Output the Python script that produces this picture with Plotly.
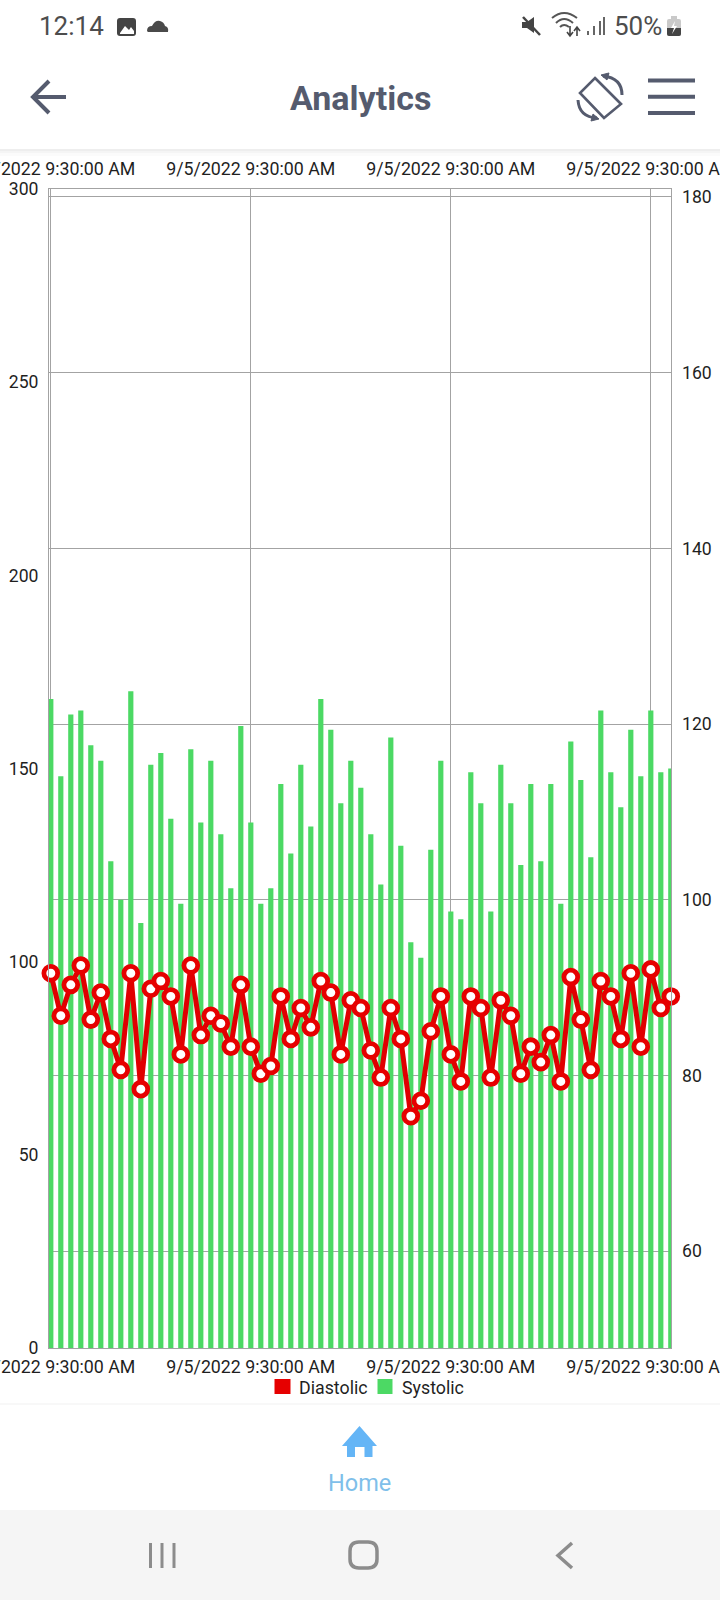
import re
import plotly.graph_objects as go

date_label = "9/5/2022 9:30:00 AM"
systolic = [168,148,164,165,156,152,126,116,170,110,151,154,137,115,155,136,152,133,119,161,
            136,115,119,146,128,151,135,168,160,141,152,145,133,120,158,130,105,101,129,152,
            113,111,149,141,113,151,141,125,146,126,146,115,157,147,127,165,149,140,160,148,
            165,149,150]
diastolic = [97,86,94,99,85,92,80,72,97,67,93,95,91,76,99,81,86,84,78,94,
             78,71,73,91,80,88,83,95,92,76,90,88,77,70,88,80,60,64,82,91,
             76,69,91,88,70,90,86,71,78,74,81,69,96,85,72,95,91,80,97,78,
             98,88,91]
readings = list(range(len(systolic)))
x_tick_positions = [0, 20, 40, 60]
x_tick_labels = [date_label] * 4
left_ticks = [0, 50, 100, 150, 200, 250, 300]
right_ticks = [60, 80, 100, 120, 140, 160, 180]

W, H = 720, 1600
L, R, T, B = 49, 671, 189, 1348
INK = "#555b6e"
STATUS = "#4d4d4d"
GRID = "#a3a3a3"
TXT = "#1f1f1f"

def px(x): return (x - L) / (R - L)
def py(y): return (B - y) / (B - T)

def P(s):
    out, i = [], 0
    for t in s.split():
        if re.fullmatch(r"[A-Za-z]", t):
            out.append(t)
        else:
            v = float(t)
            out.append(f"{px(v):.5f}" if i % 2 == 0 else f"{py(v):.5f}")
            i += 1
    return " ".join(out)

shapes, notes = [], []

def rect(x0, y0, x1, y1, fill):
    shapes.append(dict(type="rect", xref="paper", yref="paper", x0=px(x0), x1=px(x1), y0=py(y0), y1=py(y1),
                       fillcolor=fill, line=dict(width=0), layer="below"))

def path(s, fill=None, stroke=None, w=0):
    d = dict(type="path", xref="paper", yref="paper", path=P(s), line=dict(width=w, color=stroke or "rgba(0,0,0,0)"), layer="above")
    if fill:
        d["fillcolor"] = fill
    shapes.append(d)

def text(x, y, s, size, color=TXT, anchor="left", weight=400):
    notes.append(dict(text=s, x=px(x), y=py(y), xref="paper", yref="paper", showarrow=False, xanchor=anchor, yanchor="middle",
                      font=dict(family="Roboto", size=size, color=color, weight=weight), borderpad=0, borderwidth=0))

def rrect(x0, y0, x1, y1, r):
    return (f"M {x0+r} {y0} L {x1-r} {y0} Q {x1} {y0} {x1} {y0+r} L {x1} {y1-r} Q {x1} {y1} {x1-r} {y1} "
            f"L {x0+r} {y1} Q {x0} {y1} {x0} {y1-r} L {x0} {y0+r} Q {x0} {y0} {x0+r} {y0} Z")

# page regions
rect(0, 149, W, 151, "#eeeeee")
rect(0, 151, W, 153, "#f5f5f5")
rect(0, 153, W, 156, "#fbfbfb")
rect(0, 1403, W, 1405, "#f8f8f8")
rect(0, 1510, W, H, "#f5f5f5")

# status bar
text(39, 26, "12:14", 26, STATUS)
text(614, 26, "50%", 26, STATUS)
path(rrect(117, 18, 136, 36, 3), fill="#444444")
path("M 120 33 L 125 26 L 129 30 L 131 27 L 134 31 L 134 34 L 120 34 Z", fill="#ffffff")
path("M 147 31 Q 147 26 152 26 Q 155 20 160 21 Q 164 22 165 26 Q 169 27 168 32 L 148 32 Z", fill="#4a4a4a")
path("M 522 22 L 527 22 L 534 17 L 534 33 L 527 28 L 522 28 Z", fill="#444444")
path("M 523 17 L 540 35", stroke="#444444", w=2.5)
path("M 552 18 Q 564 8 577 18", stroke="#555555", w=2)
path("M 556 23 Q 564 15 573 23", stroke="#555555", w=2)
path("M 560 27 Q 564 23 569 27", stroke="#555555", w=2)
path("M 570 26 L 570 35 M 567 32 L 570 36 L 573 32", stroke="#444444", w=1.6)
path("M 577 36 L 577 28 M 574 31 L 577 27 L 580 31", stroke="#444444", w=1.6)
for bx, by in ((588, 31), (594, 26), (600, 21), (604, 17)):
    path(f"M {bx} 35 L {bx} {by}", stroke="#666666", w=2)
path(rrect(667, 19, 681, 36, 2), fill="#c9c9c9")
path("M 671 16 L 677 16 L 677 19 L 671 19 Z", fill="#c9c9c9")
path("M 667 28 L 681 28 L 681 34 Q 681 36 679 36 L 669 36 Q 667 36 667 34 Z", fill="#444444")
path("M 675 21 L 671 28 L 674 28 L 672 34 L 677 26 L 674 26 Z", fill="#ffffff")

# header
text(360.5, 98, "Analytics", 34, INK, "center", 700)
path("M 66 97 L 33 97 M 49 81 L 33 97 L 49 113", stroke=INK, w=4)
path("M 595 78 L 621 104 L 604 118 L 580 93 Z", stroke=INK, w=2.6)
path("M 603 76 Q 622 78 622 95", stroke=INK, w=3)
path("M 601 75 L 609 73 L 607 80 Z", fill=INK, stroke=INK, w=1)
path("M 578 100 Q 579 117 597 118", stroke=INK, w=3)
path("M 599 119 L 591 121 L 593 114 Z", fill=INK, stroke=INK, w=1)
for ly in (80.5, 96.8, 113):
    path(f"M 648 {ly} L 695 {ly}", stroke=INK, w=4)

# legend
rect(274.5, 1379, 290.5, 1394, "#e60000")
rect(377.5, 1379, 392.5, 1394, "#4cd964")
text(299, 1387.5, "Diastolic", 17.8)
text(402, 1387.5, "Systolic", 17.8)

# bottom navigation
path("M 359.5 1426 L 377 1446 L 372.5 1446 L 372.5 1457 L 364.5 1457 L 364.5 1447 L 355 1447 L 355 1457 L 347 1457 L 347 1446 L 342 1446 Z", fill="#64b5f6")
text(359, 1483, "Home", 23.5, "#7fbfea", "center")
for nx in (150.5, 162, 174):
    path(f"M {nx} 1543 L {nx} 1568", stroke="#8c8c8c", w=3)
path(rrect(350, 1542, 377, 1568, 9), stroke="#8c8c8c", w=3.5)
path("M 572 1543 L 558 1555.5 L 572 1568", stroke="#8c8c8c", w=3.5)

x_font = dict(family="Roboto", size=17.8, color=TXT)
y_font = dict(family="Roboto", size=17.6, color=TXT)
x_range = [-0.18, 62.02]

fig = go.Figure()
fig.add_bar(x=readings, y=systolic, name="Systolic", width=0.52, marker=dict(color="#4cd964", line=dict(width=0)), showlegend=False)
fig.add_scatter(x=readings, y=diastolic, name="Diastolic", mode="lines+markers", cliponaxis=False, showlegend=False,
                line=dict(color="#e00000", width=5),
                marker=dict(size=13.8, color="#ffffff", line=dict(color="#e60000", width=4.8)))
# carries the top category axis and the right value axis
fig.add_scatter(x=readings[:len(right_ticks)], y=right_ticks, xaxis="x2", yaxis="y2", mode="none", showlegend=False, hoverinfo="skip")

fig.update_layout(
    width=W, height=H, paper_bgcolor="#ffffff", plot_bgcolor="#ffffff",
    margin=dict(l=L, r=W - R, t=T, b=H - B, autoexpand=False),
    showlegend=False, shapes=shapes, annotations=notes, bargap=0.5,
    xaxis=dict(range=x_range, tickmode="array", tickvals=x_tick_positions, ticktext=x_tick_labels,
               tickangle=0, showgrid=True, gridcolor=GRID, gridwidth=1, zeroline=False, showline=True, linecolor=GRID,
               ticks="", tickfont=x_font, ticklabelstandoff=3, ticklabeloverflow="allow", mirror=True),
    xaxis2=dict(range=x_range, overlaying="x", side="top", tickmode="array", tickvals=x_tick_positions, ticktext=x_tick_labels,
                tickangle=0, showgrid=False, zeroline=False, showline=False, ticks="", tickfont=x_font, ticklabelstandoff=9, ticklabeloverflow="allow"),
    yaxis=dict(range=[0, 300], tickmode="array", tickvals=left_ticks, showgrid=False, zeroline=False, showline=True, linecolor=GRID,
               ticks="", tickfont=y_font, ticklabelstandoff=6, mirror=True),
    yaxis2=dict(range=[48.96, 180.91], overlaying="y", side="right", anchor="x2", tickmode="array", tickvals=right_ticks,
                showgrid=True, gridcolor=GRID, gridwidth=1, zeroline=False, showline=False, ticks="", tickfont=y_font, ticklabelstandoff=10),
)
fig.write_html("out.html", config=dict(displayModeBar=False), post_script="document.body.style.margin='0';document.documentElement.style.overflow='hidden';")
